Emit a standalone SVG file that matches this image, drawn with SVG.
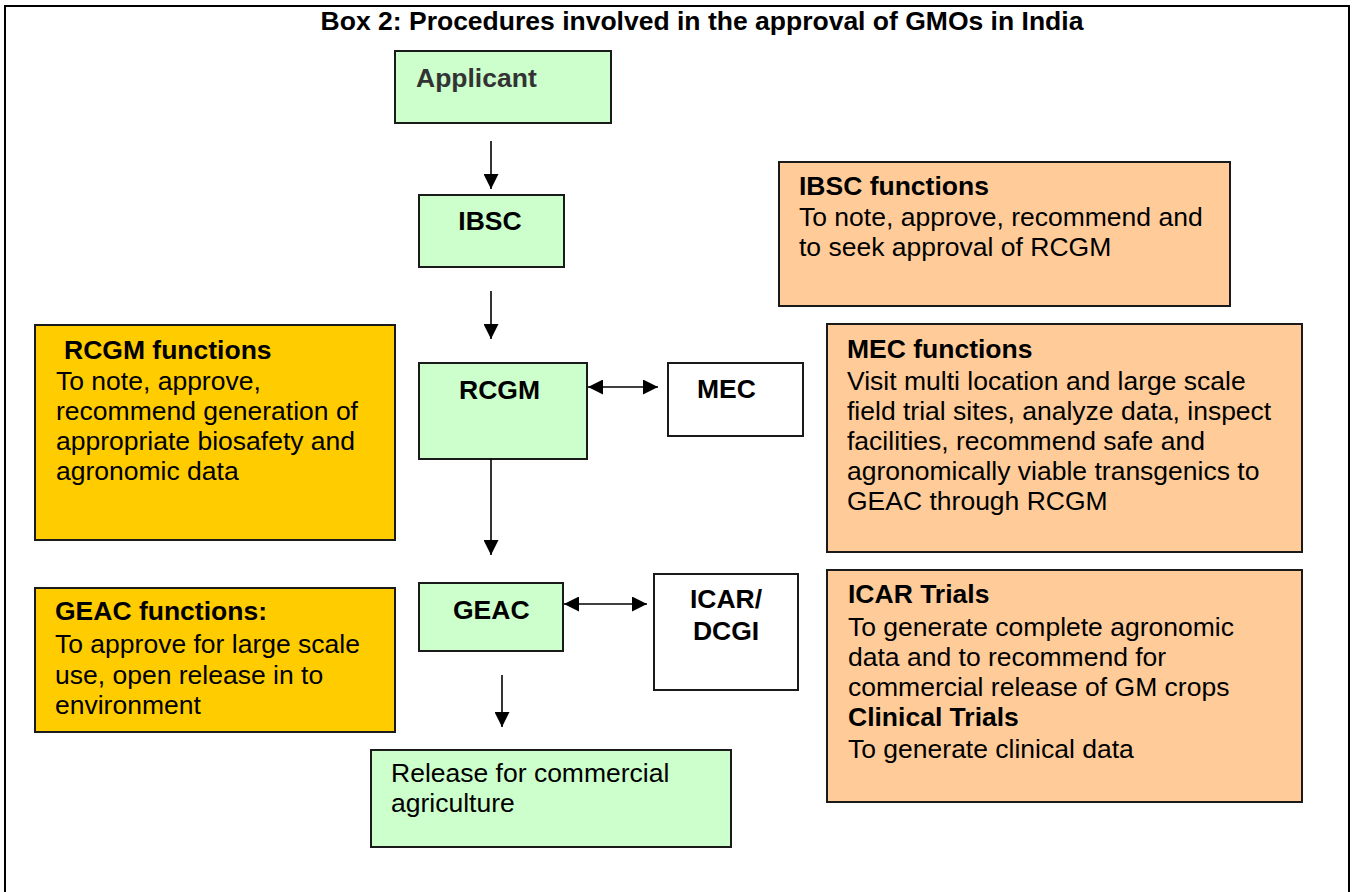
<svg xmlns="http://www.w3.org/2000/svg" width="1354" height="892" viewBox="0 0 1354 892">
<style>
.t{font-family:"Liberation Sans",Arial,sans-serif;font-size:26.5px;fill:#000}
.b{font-weight:bold}
.box{stroke:#1a1a1a;stroke-width:2}
.green{fill:#CCFFCC}
.yellow{fill:#FFCC00}
.orange{fill:#FFCC99}
.white{fill:#FFFFFF}
.con{stroke:#000;stroke-width:1.6;fill:none}
</style>
<defs>
<marker id="ah" viewBox="0 0 15 15" refX="15" refY="7.5" markerWidth="15" markerHeight="15" markerUnits="userSpaceOnUse" orient="auto-start-reverse">
<path d="M0,0 L15,7.5 L0,15 Z" fill="#000"/>
</marker>
</defs>
<rect x="0" y="0" width="1354" height="892" fill="#FFFFFF"/>
<path d="M5,900 V6 H1349 V900" fill="none" stroke="#000" stroke-width="2"/>
<text class="t b" x="702" y="30" text-anchor="middle">Box 2: Procedures involved in the approval of GMOs in India</text>

<g id="applicant">
<rect class="box green" x="395" y="51" width="216" height="72"/>
<text class="t b" x="416" y="87" style="fill:#333333">Applicant</text>
</g>
<g id="ibsc">
<rect class="box green" x="419" y="195" width="145" height="72"/>
<text class="t b" x="490" y="230" text-anchor="middle">IBSC</text>
</g>
<g id="rcgm">
<rect class="box green" x="419" y="363" width="168" height="96"/>
<text class="t b" x="459" y="399">RCGM</text>
</g>
<g id="mec">
<rect class="box white" x="668" y="363" width="135" height="73"/>
<text class="t b" x="697" y="398">MEC</text>
</g>
<g id="geac">
<rect class="box green" x="419" y="583" width="144" height="68"/>
<text class="t b" x="453" y="619">GEAC</text>
</g>
<g id="icar-dcgi">
<rect class="box white" x="654" y="574" width="144" height="116"/>
<text class="t b" x="726" y="608" text-anchor="middle">ICAR/</text>
<text class="t b" x="726" y="640" text-anchor="middle">DCGI</text>
</g>
<g id="release">
<rect class="box green" x="371" y="750" width="360" height="97"/>
<text class="t" x="391" y="782">Release for commercial</text>
<text class="t" x="391" y="812">agriculture</text>
</g>

<g id="ibsc-functions">
<rect class="box orange" x="779" y="162" width="451" height="144"/>
<text class="t b" x="799" y="195">IBSC functions</text>
<text class="t" x="799" y="226">To note, approve, recommend and</text>
<text class="t" x="799" y="256">to seek approval of RCGM</text>
</g>
<g id="rcgm-functions">
<rect class="box yellow" x="35" y="325" width="360" height="215"/>
<text class="t b" x="64" y="359">RCGM functions</text>
<text class="t" x="56" y="390">To note, approve,</text>
<text class="t" x="56" y="420">recommend generation of</text>
<text class="t" x="56" y="450">appropriate biosafety and</text>
<text class="t" x="56" y="480">agronomic data</text>
</g>
<g id="mec-functions">
<rect class="box orange" x="827" y="324" width="475" height="228"/>
<text class="t b" x="847" y="358">MEC functions</text>
<text class="t" x="847" y="390">Visit multi location and large scale</text>
<text class="t" x="847" y="420">field trial sites, analyze data, inspect</text>
<text class="t" x="847" y="450">facilities, recommend safe and</text>
<text class="t" x="847" y="480">agronomically viable transgenics to</text>
<text class="t" x="847" y="510">GEAC through RCGM</text>
</g>
<g id="geac-functions">
<rect class="box yellow" x="35" y="588" width="360" height="144"/>
<text class="t b" x="55" y="620">GEAC functions:</text>
<text class="t" x="55" y="653">To approve for large scale</text>
<text class="t" x="55" y="684">use, open release in to</text>
<text class="t" x="55" y="714">environment</text>
</g>
<g id="icar-trials">
<rect class="box orange" x="827" y="570" width="475" height="232"/>
<text class="t b" x="848" y="603">ICAR Trials</text>
<text class="t" x="848" y="636">To generate complete agronomic</text>
<text class="t" x="848" y="666">data and to recommend for</text>
<text class="t" x="848" y="696">commercial release of GM crops</text>
<text class="t b" x="848" y="726">Clinical Trials</text>
<text class="t" x="848" y="758">To generate clinical data</text>
</g>

<g id="connectors">
<line class="con" x1="491" y1="141" x2="491" y2="189" marker-end="url(#ah)"/>
<line class="con" x1="491" y1="291" x2="491" y2="339" marker-end="url(#ah)"/>
<line class="con" x1="588" y1="387" x2="658" y2="387" marker-start="url(#ah)" marker-end="url(#ah)"/>
<line class="con" x1="491" y1="459" x2="491" y2="555" marker-end="url(#ah)"/>
<line class="con" x1="564" y1="604" x2="647" y2="604" marker-start="url(#ah)" marker-end="url(#ah)"/>
<line class="con" x1="502" y1="675" x2="502" y2="727" marker-end="url(#ah)"/>
</g>
</svg>
